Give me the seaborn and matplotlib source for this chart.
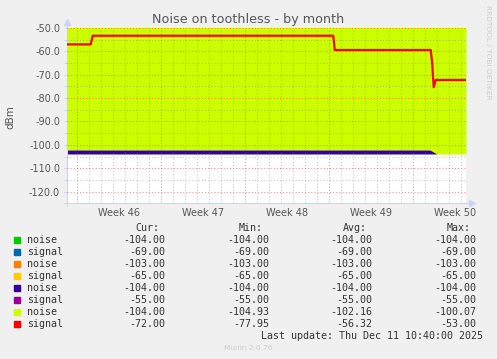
import matplotlib
matplotlib.use("Agg")
import matplotlib.pyplot as plt
import seaborn as sns
import numpy as np
import pandas as pd

# ── Data ───────────────────────────────────────────────
# x in days, day 0 = start of week 46
x_range = (-0.81, 32.44)
week_pos = [3.5, 10.5, 17.5, 24.5, 31.5]
week_labels = ["Week 46", "Week 47", "Week 48", "Week 49", "Week 50"]

signal_days = [-0.81, 1.17, 1.33, 21.38, 21.50, 29.50, 29.62, 29.75, 29.92, 32.44]
signal_dbm = [-57.0, -57.0, -53.3, -53.3, -59.4, -59.4, -65.0, -75.3, -72.2, -72.2]

noise_days = [-0.81, 29.50, 29.62, 32.44]
noise_dbm = [-102.2, -102.2, -103.9, -103.9]

band_days = [-0.81, 29.44, 30.00]
band_top = [-102.2, -102.2, -103.9]
band_bottom = [-103.9, -103.9, -103.9]

legend_names = ["noise", "signal", "noise", "signal", "noise", "signal", "noise", "signal"]
legend_colors = ["#00CC00", "#0066B3", "#FF8000", "#FFCC00",
                 "#330099", "#990099", "#CCFF00", "#FF0000"]
cur_vals = ["-104.00", "-69.00", "-103.00", "-65.00", "-104.00", "-55.00", "-104.00", "-72.00"]
min_vals = ["-104.00", "-69.00", "-103.00", "-65.00", "-104.00", "-55.00", "-104.93", "-77.95"]
avg_vals = ["-104.00", "-69.00", "-103.00", "-65.00", "-104.00", "-55.00", "-102.16", "-56.32"]
max_vals = ["-104.00", "-69.00", "-103.00", "-65.00", "-104.00", "-55.00", "-100.07", "-53.00"]

# ── Style ──────────────────────────────────────────────
sns.set_style("white")
plt.rcParams["font.family"] = ["DejaVu Sans"]

W, H = 497, 359
fig = plt.figure(figsize=(W / 100, H / 100), dpi=100, facecolor="#F0F0F0")
ax = fig.add_axes([67 / W, 1 - 203.3 / H, 399 / W, 175.3 / H], facecolor="white")


def fx(px):
    return px / W


def fy(py):
    return 1 - py / H


TXT = "#555555"
AXC = "#C8D4FF"
MAJ = (0.95, 0.2, 0.2, 0.55)
MIN = (0.5, 0.5, 0.5, 0.45)

# areas
ax.fill_between(noise_days, noise_dbm, 0, color="#CCFF00", lw=0, zorder=1)
ax.fill_between(band_days, band_top, band_bottom, color="#330099", lw=0, zorder=2)

# grid
for d in np.arange(0, 33, 1):
    major = d % 7 == 0
    ax.axvline(d, color=MAJ if major else MIN, lw=0.75, ls=(0, (1, 2)), zorder=3)
for v in np.arange(-120, -49, 5):
    major = v % 10 == 0
    ax.axhline(v, color=MAJ if major else MIN, lw=0.75, ls=(0, (1, 2)), zorder=3)

sig = pd.DataFrame({"day": signal_days, "dbm": signal_dbm})
sns.lineplot(data=sig, x="day", y="dbm", color="#FF0000", lw=1.6, ax=ax, zorder=5)

ax.set_xlim(*x_range)
ax.set_ylim(-125, -50)
ax.set_xlabel("")
ax.set_ylabel("")

ax.set_xticks(week_pos, week_labels)
ax.set_yticks(np.arange(-120, -49, 10), [f"{v:.1f}" for v in np.arange(-120, -49, 10)])
ax.set_yticks(np.arange(-125, -49, 5), minor=True)
ax.tick_params(axis="x", length=0, pad=3.5, labelsize=7, labelcolor=TXT)
ax.tick_params(axis="y", which="both", length=2.4, width=0.7, color=AXC, left=True,
               pad=2.6, labelsize=7, labelcolor=TXT)

for s in ["top", "right"]:
    ax.spines[s].set_visible(False)
for s in ["left", "bottom"]:
    ax.spines[s].set_color(AXC)
    ax.spines[s].set_linewidth(0.8)
ax.spines["left"].set_bounds(-126.2, -48)
ax.spines["bottom"].set_bounds(-1.1, 33.0)
ax.plot([0], [1.035], marker="^", ms=4, color=AXC, transform=ax.transAxes, clip_on=False)
ax.plot([1.0145], [0], marker=">", ms=4, color=AXC, transform=ax.transAxes, clip_on=False)

# texts
fig.text(fx(248.3), fy(19), "Noise on toothless - by month", ha="center", va="center",
         fontsize=9.2, color=TXT)
fig.text(fx(10), fy(116.7), "dBm", rotation=90, ha="center", va="center",
         fontsize=7.5, color=TXT)
fig.text(fx(487.7), fy(5), "RRDTOOL / TOBI OETIKER", rotation=270, ha="center", va="top",
         fontsize=5.3, color="#CCCCCC")

mono = "DejaVu Sans Mono"
fs = 7.2
for px, head in zip([159.3, 263, 366.7, 470.3], ["Cur:", "Min:", "Avg:", "Max:"]):
    fig.text(fx(px), fy(227.7), head, ha="right", va="center", family=mono, fontsize=fs, color="#333333")

for i, name in enumerate(legend_names):
    yy = 239.7 + 12 * i
    fig.patches.append(plt.Rectangle((fx(14), fy(yy + 3)), 6 / W, 6 / H,
                                     transform=fig.transFigure, color=legend_colors[i]))
    fig.text(fx(26.7), fy(yy), name, ha="left", va="center", family=mono, fontsize=fs, color="#333333")
    for px, col in zip([165, 269, 372.7, 476.7], [cur_vals, min_vals, avg_vals, max_vals]):
        fig.text(fx(px), fy(yy), col[i], ha="right", va="center", family=mono, fontsize=fs,
                 color="#333333")

fig.text(fx(483), fy(335.7), "Last update: Thu Dec 11 10:40:00 2025", ha="right", va="center",
         family=mono, fontsize=fs, color="#333333")
fig.text(fx(248), fy(348.3), "Munin 2.0.76", ha="center", va="center", fontsize=5.3, color="#CCCCCC")

fig.savefig("out.png", dpi=100, facecolor=fig.get_facecolor())
